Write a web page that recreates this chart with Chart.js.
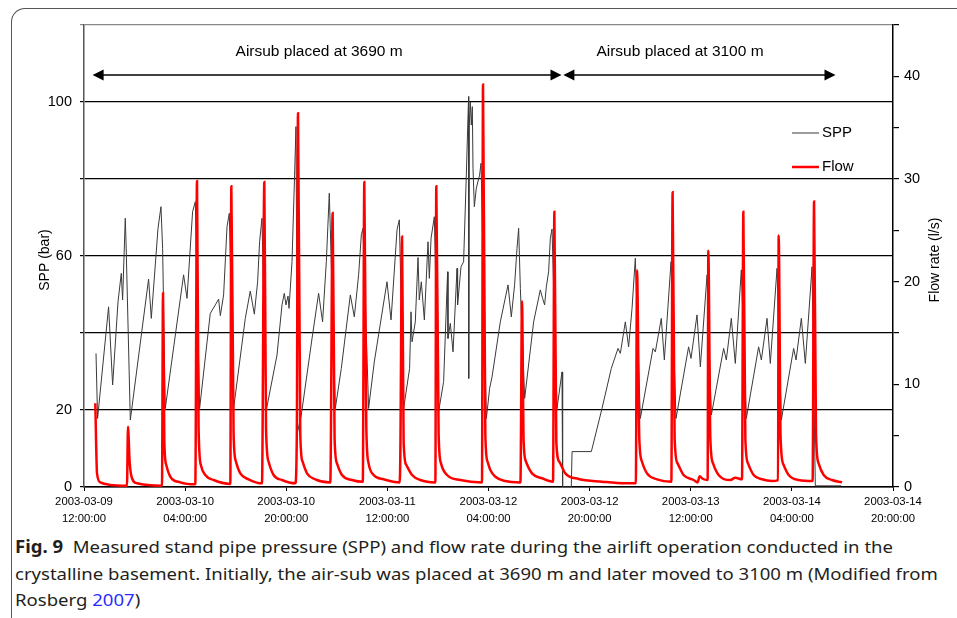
<!DOCTYPE html>
<html>
<head>
<meta charset="utf-8">
<script src="https://cdn.jsdelivr.net/npm/chart.js@4.4.0/dist/chart.umd.min.js"></script>
<style>
  html, body { margin: 0; padding: 0; background: #fff; }
  body { width: 957px; height: 618px; position: relative; overflow: hidden; }
  .frame {
    position: absolute; left: 11px; top: 8px; width: 980px; height: 640px;
    border-top: 1.5px solid #555; border-left: 1.5px solid #555;
    border-top-left-radius: 14px; box-sizing: border-box;
  }
  .wrap { position: absolute; left: 0; top: 0; width: 957px; height: 530px; }
  .caption {
    position: absolute; left: 15px; top: 534px; white-space: nowrap;
    font-family: "Noto Sans", sans-serif; font-size: 17px; line-height: 26.5px;
    color: #231f20; transform-origin: 0 0;
  }
  .caption b { font-weight: 700; }
  .caption .ref { color: #2a2aff; }
</style>
</head>
<body>
<div class="frame"></div>
<div class="wrap"><canvas id="airliftChart"></canvas></div>
<div class="caption" id="caption">
  <div><b>Fig. 9</b>&nbsp; Measured stand pipe pressure (SPP) and flow rate during the airlift operation conducted in the</div>
  <div id="capLine2">crystalline basement. Initially, the air-sub was placed at 3690 m and later moved to 3100 m (Modified from</div>
  <div>Rosberg <span class="ref">2007</span>)</div>
</div>
<script>
// time axis: hours since 2003-03-09 12:00:00
const tickDates = ['2003-03-09', '2003-03-10', '2003-03-10', '2003-03-11', '2003-03-12',
                   '2003-03-12', '2003-03-13', '2003-03-14', '2003-03-14'];
const tickTimes = ['12:00:00', '04:00:00', '20:00:00', '12:00:00', '04:00:00',
                   '20:00:00', '12:00:00', '04:00:00', '20:00:00'];
const sppTickLabels = [0, 20, 60, 100];
const flowTickLabels = [0, 10, 20, 30, 40];

// SPP (bar)
const sppHours = [
  1.90, 2.15, 3.89, 4.53, 5.38, 5.90, 6.11, 6.53, 6.65, 7.33,
  10.22, 10.65, 11.71, 12.18, 12.44, 12.86, 15.76, 16.30, 17.18, 17.61,
  18.29, 19.98, 20.78, 21.30, 21.57, 22.09, 22.63, 22.99, 23.67, 25.52,
  26.31, 26.95, 27.47, 27.78, 28.16, 28.80, 30.54, 31.33, 31.69, 31.96,
  32.28, 32.44, 32.91, 33.32, 33.54, 33.80, 34.38, 36.08, 37.12, 37.75,
  38.34, 38.81, 38.97, 39.76, 40.71, 42.14, 42.77, 43.45, 43.88, 44.15,
  45.03, 45.93, 47.94, 48.58, 49.53, 49.89, 50.57, 51.52, 51.74, 51.90,
  52.42, 52.85, 53.05, 53.37, 53.85, 54.43, 54.64, 54.91, 55.43, 56.11,
  56.90, 57.53, 57.59, 57.96, 58.39, 59.02, 59.11, 59.65, 60.06, 60.49,
  60.85, 60.87, 60.96, 61.12, 61.28, 61.44, 61.55, 61.76, 62.07, 62.59,
  62.82, 63.66, 64.18, 64.56, 65.87, 67.09, 67.61, 68.13, 68.51, 68.77,
  69.04, 69.72, 71.14, 72.20, 72.56, 72.88, 73.15, 73.51, 73.78, 74.05,
  74.84, 75.63, 75.73, 77.10, 77.22, 80.27, 81.96, 83.43, 84.49, 84.86,
  85.65, 86.17, 86.71, 87.23, 88.02, 90.03, 90.40, 91.34, 91.82, 92.88,
  93.67, 95.66, 96.04, 96.99, 97.52, 98.58, 99.26, 101.20, 101.63, 102.42,
  103.05, 104.00, 104.79, 106.74, 107.17, 108.07, 108.59, 109.65, 110.33, 112.28,
  112.66, 113.50, 114.13, 115.19, 115.71, 119.83
];
const sppValues = [
  34.7, 17.8, 46.8, 26.5, 48.1, 55.5, 48.6, 69.8, 63.7, 17.4,
  54.0, 43.8, 67.2, 72.8, 62.0, 20.4, 55.1, 49.0, 71.5, 74.1,
  20.4, 45.1, 47.3, 48.8, 44.5, 49.9, 67.6, 71.1, 20.4, 43.8,
  50.9, 44.9, 53.3, 63.7, 69.8, 19.6, 34.3, 47.3, 50.3, 47.3,
  49.6, 46.4, 58.5, 81.0, 93.6, 14.4, 18.7, 38.6, 50.3, 42.9,
  58.5, 76.3, 67.2, 20.4, 30.8, 49.9, 44.2, 55.1, 65.5, 67.2,
  20.4, 32.5, 53.3, 43.4, 66.8, 69.4, 20.4, 30.8, 45.5, 37.7,
  42.9, 59.6, 48.6, 53.3, 43.4, 63.7, 54.2, 64.6, 70.2, 19.6,
  27.4, 55.9, 38.6, 42.5, 35.1, 56.8, 47.3, 57.2, 58.5, 81.0,
  101.4, 28.2, 94.0, 100.0, 94.0, 98.8, 82.8, 72.8, 77.6, 81.0,
  84.1, 17.8, 25.6, 28.6, 42.9, 52.5, 44.2, 52.5, 62.0, 67.2,
  51.6, 23.0, 42.9, 51.2, 49.0, 47.3, 52.0, 55.9, 64.6, 67.0,
  20.4, 29.9, 0.0, 0.0, 9.2, 9.2, 20.4, 30.8, 36.0, 34.7,
  42.9, 36.4, 46.4, 59.4, 17.8, 36.0, 35.1, 43.8, 33.0, 58.5,
  17.8, 36.4, 33.4, 44.7, 31.2, 55.1, 18.7, 36.0, 33.0, 43.8,
  32.1, 56.4, 17.8, 36.4, 33.0, 43.8, 32.1, 56.8, 17.4, 36.0,
  33.0, 43.8, 32.1, 57.2, 0.3, 0.3
];

// Flow rate (l/s)
const flowHours = [
  1.79, 2.06, 2.58, 4.16, 6.80, 6.96, 7.22, 7.59, 8.39, 12.34,
  12.50, 12.71, 13.02, 13.66, 15.24, 17.61, 17.88, 18.13, 18.51, 19.19,
  20.51, 23.15, 23.31, 23.67, 24.05, 24.73, 26.04, 28.16, 28.53, 28.80,
  29.21, 30.00, 31.33, 33.43, 33.67, 33.86, 34.22, 34.59, 35.28, 36.60,
  38.97, 39.34, 39.65, 40.03, 40.82, 42.41, 44.11, 44.35, 44.67, 45.03,
  45.82, 47.41, 49.94, 50.05, 50.32, 50.57, 51.00, 51.90, 53.21, 55.59,
  55.74, 56.11, 56.49, 57.44, 59.54, 62.97, 63.13, 63.50, 63.86, 64.29,
  65.08, 66.66, 69.04, 69.09, 69.30, 69.56, 69.94, 70.89, 72.47, 74.21,
  74.42, 74.73, 75.21, 76.16, 78.26, 81.96, 85.54, 87.31, 87.50, 87.86,
  88.29, 89.08, 90.66, 92.93, 93.13, 93.45, 93.92, 94.87, 96.46, 97.09,
  97.41, 97.94, 98.67, 98.78, 99.10, 99.53, 100.41, 102.26, 103.05, 104.11,
  104.32, 104.64, 105.06, 105.95, 107.28, 108.86, 109.81, 109.91, 110.22, 110.70,
  111.49, 113.07, 115.28, 115.51, 115.82, 116.23, 117.03, 118.35, 119.94
];
const flowValues = [
  8.15, 1.33, 0.45, 0.20, 0.13, 5.87, 2.46, 0.85, 0.36, 0.13,
  18.9, 4.4, 2.14, 1.0, 0.45, 0.26, 29.8, 5.7, 2.1, 1.17,
  0.68, 0.30, 29.3, 5.1, 2.46, 1.33, 0.75, 0.36, 29.7, 5.7,
  2.46, 1.17, 0.68, 0.36, 5.0, 36.4, 5.1, 2.46, 1.33, 0.75,
  0.45, 26.7, 4.7, 2.3, 1.17, 0.68, 0.50, 29.7, 5.7, 2.3,
  1.17, 0.75, 0.45, 3.1, 24.4, 4.4, 2.14, 1.17, 0.68, 0.45,
  29.3, 5.1, 2.3, 1.17, 0.68, 0.45, 39.2, 5.1, 2.46, 1.66,
  1.0, 0.58, 0.45, 1.5, 18.1, 4.4, 2.46, 1.33, 0.85, 0.52,
  26.8, 4.4, 2.46, 1.33, 0.78, 0.52, 0.36, 0.36, 21.1, 4.7,
  2.46, 1.33, 0.75, 0.52, 28.7, 4.7, 2.3, 1.17, 0.68, 0.45,
  1.04, 0.78, 0.68, 23.0, 4.7, 2.3, 1.17, 0.68, 0.90, 0.75,
  26.8, 4.7, 2.3, 1.17, 0.75, 0.58, 0.68, 24.5, 4.7, 2.14,
  1.17, 0.68, 0.58, 27.8, 5.1, 2.3, 1.17, 0.68, 0.45
];

// annotation spans (hours / SPP units)
const spanLabels = ['Airsub placed at 3690 m', 'Airsub placed at 3100 m'];
const spanStart = [1.36, 75.85];
const spanEnd = [75.55, 118.9];
const spanLabelAt = [37.2, 94.3];
const spanArrowLevel = 107;
const spanLabelLevel = 113;

const FONT = '"Liberation Sans", Arial, sans-serif';

function arrowHead(ctx, x, y, dir) {
  ctx.beginPath();
  ctx.moveTo(x, y);
  ctx.lineTo(x - dir * 11, y - 5.5);
  ctx.lineTo(x - dir * 11, y + 5.5);
  ctx.closePath();
  ctx.fill();
}

const overlayPlugin = {
  id: 'overlay',
  afterDraw(chart) {
    const { ctx, chartArea, scales } = chart;
    const xs = scales.x, ys = scales.y;
    ctx.save();
    ctx.fillStyle = '#000';
    ctx.strokeStyle = '#000';
    ctx.lineWidth = 1.5;

    // span arrows + labels
    spanLabels.forEach((label, i) => {
      const x1 = xs.getPixelForValue(spanStart[i]);
      const x2 = xs.getPixelForValue(spanEnd[i]);
      const yy = ys.getPixelForValue(spanArrowLevel);
      ctx.beginPath();
      ctx.moveTo(x1 + 8, yy);
      ctx.lineTo(x2 - 8, yy);
      ctx.stroke();
      arrowHead(ctx, x1, yy, -1);
      arrowHead(ctx, x2, yy, 1);
      ctx.font = '15.5px ' + FONT;
      ctx.textAlign = 'center';
      ctx.textBaseline = 'middle';
      ctx.fillText(label, xs.getPixelForValue(spanLabelAt[i]), ys.getPixelForValue(spanLabelLevel));
    });

    // legend
    const lx = chartArea.right - 101;
    const items = chart.data.datasets.slice().reverse();
    items.forEach((ds, i) => {
      const ly = chartArea.top + 108 + i * 34;
      ctx.strokeStyle = ds.borderColor;
      ctx.lineWidth = ds.borderWidth;
      ctx.beginPath();
      ctx.moveTo(lx, ly);
      ctx.lineTo(lx + 27, ly);
      ctx.stroke();
      ctx.fillStyle = '#000';
      ctx.font = '15px ' + FONT;
      ctx.textAlign = 'left';
      ctx.textBaseline = 'middle';
      ctx.fillText(ds.label, lx + 30, ly);
    });

    // axis titles
    ctx.font = '14px ' + FONT;
    ctx.textAlign = 'center';
    ctx.textBaseline = 'middle';
    ctx.save();
    ctx.translate(45, chartArea.top + 235);
    ctx.rotate(-Math.PI / 2);
    ctx.fillText('SPP (bar)', 0, 0);
    ctx.restore();
    ctx.save();
    ctx.translate(chartArea.right + 42, chartArea.top + 235);
    ctx.rotate(-Math.PI / 2);
    ctx.fillText('Flow rate (l/s)', 0, 0);
    ctx.restore();

    ctx.restore();
  }
};

const ctx = document.getElementById('airliftChart');
new Chart(ctx, {
  type: 'line',
  data: {
    datasets: [
      {
        label: 'Flow',
        data: flowHours.map((h, i) => ({ x: h, y: flowValues[i] })),
        yAxisID: 'y2',
        borderColor: '#ff0000',
        borderWidth: 2.5,
        pointRadius: 0,
        cubicInterpolationMode: 'monotone',
        fill: false
      },
      {
        label: 'SPP',
        data: sppHours.map((h, i) => ({ x: h, y: sppValues[i] })),
        yAxisID: 'y',
        borderColor: '#3a3a3a',
        borderWidth: 1,
        pointRadius: 0,
        tension: 0,
        fill: false
      }
    ]
  },
  options: {
    responsive: true,
    maintainAspectRatio: false,
    animation: false,
    layout: { padding: { top: 25, left: 0, right: 0, bottom: 0 } },
    plugins: {
      legend: { display: false },
      tooltip: { enabled: false }
    },
    scales: {
      x: {
        type: 'linear',
        min: 0,
        max: 128,
        afterFit: s => { s.height = 43; },
        afterBuildTicks: s => { s.ticks = tickDates.map((d, i) => ({ value: i * 16 })); },
        ticks: {
          autoSkip: false,
          maxRotation: 0,
          padding: 2,
          color: '#000',
          font: { family: FONT, size: 11.3, lineHeight: 1.55 },
          callback: (v) => {
            const i = Math.round(v / 16);
            return [tickDates[i], tickTimes[i]];
          }
        },
        grid: { drawOnChartArea: false, drawTicks: true, tickLength: 4, color: '#000' },
        border: { color: '#000', width: 1.5 }
      },
      y: {
        position: 'left',
        min: 0,
        max: 120,
        afterFit: s => { s.width = 84; },
        ticks: {
          stepSize: 20,
          padding: 8,
          color: '#000',
          font: { family: FONT, size: 14.5 },
          callback: v => sppTickLabels.includes(v) ? String(v) : ''
        },
        grid: {
          color: c => c.tick && c.tick.value === 120 ? '#888' : '#000',
          lineWidth: 1.2,
          tickLength: 4
        },
        border: { color: '#555', width: 1.5 }
      },
      y2: {
        position: 'right',
        min: 0,
        max: 45,
        afterFit: s => { s.width = 64; },
        ticks: {
          stepSize: 5,
          padding: 5,
          color: '#000',
          font: { family: FONT, size: 14.5 },
          callback: v => flowTickLabels.includes(v) ? String(v) : ''
        },
        grid: { drawOnChartArea: false, color: '#000', tickLength: 6, lineWidth: 1.2 },
        border: { color: '#000', width: 1.5 }
      }
    }
  },
  plugins: [overlayPlugin]
});

// squeeze caption to the figure's condensed face
const cap = document.getElementById('caption');
const line2 = document.getElementById('capLine2');
cap.style.transform = 'scaleX(' + (923 / line2.scrollWidth) + ')';
</script>
</body>
</html>
